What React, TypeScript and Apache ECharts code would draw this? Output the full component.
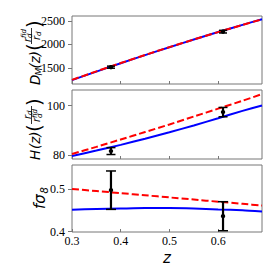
import React, { useEffect, useRef } from "react";
import * as echarts from "echarts";

// model curves
const zGrid = [0.3, 0.35, 0.4, 0.45, 0.5, 0.55, 0.6, 0.65, 0.69];
const dmLCDM = [1243, 1424, 1602, 1775, 1943, 2106, 2265, 2418, 2538];
const dmMod = [1248, 1428, 1605, 1777, 1944, 2106, 2264, 2417, 2536];
const hLCDM = [79.6, 81.8, 84.1, 86.6, 89.2, 92.0, 94.9, 97.9, 100.1];
const hMod = [80.4, 83.3, 86.3, 89.3, 92.4, 95.6, 98.8, 102.0, 104.7];
const fLCDM = [0.451, 0.453, 0.454, 0.455, 0.455, 0.454, 0.452, 0.45, 0.447];
const fMod = [0.5, 0.495, 0.49, 0.485, 0.48, 0.475, 0.47, 0.465, 0.461];

// observations
const obsZ = [0.38, 0.61];
const dmObs = [1518, 2273];
const dmErr = [22, 28];
const hObs = [81.6, 97.4];
const hErr = [1.4, 1.9];
const fObs = [0.497, 0.436];
const fErr = [0.045, 0.034];

// ticks
const zTicks = [0.3, 0.4, 0.5, 0.6];
const dmTicks = [1500, 2000, 2500];
const hTicks = [80, 100];
const fTicks = [0.4, 0.5];

const FRAME = "#777";
const SERIF = "Liberation Serif, serif";
const SANS = "DejaVu Sans, sans-serif";

function zip(xs: number[], ys: number[]) {
  return xs.map((x, i) => [x, ys[i]]);
}
function zip3(xs: number[], ys: number[], es: number[]) {
  return xs.map((x, i) => [x, ys[i], es[i]]);
}

function t(text: string, x: number, y: number, size: number, italic = true, extra: any = {}) {
  return {
    type: "text",
    x,
    y,
    style: {
      text,
      fontSize: size,
      fontFamily: SANS,
      fontStyle: italic ? "italic" : "normal",
      fill: "#000",
      align: "left",
      verticalAlign: "middle",
      ...extra,
    },
  };
}

export default function App() {
  const ref = useRef<HTMLDivElement>(null);
  useEffect(() => {
    if (!ref.current) return;
    const chart = echarts.init(ref.current, null, { renderer: "svg" });

    const grids = [
      { left: 72, top: 16, width: 190, height: 68 },
      { left: 72, top: 90, width: 190, height: 69 },
      { left: 72, top: 165, width: 190, height: 67 },
    ].map((g) => ({ ...g, show: true, borderColor: FRAME, borderWidth: 1, backgroundColor: "transparent" }));

    const xAxes = [0, 1, 2].map((i) => ({
      type: "value",
      gridIndex: i,
      min: 0.3,
      max: 0.69,
      axisLine: { show: false },
      splitLine: { show: false },
      axisTick: { show: true, inside: true, length: 3, customValues: zTicks, lineStyle: { color: FRAME } },
      axisLabel: {
        show: i === 2,
        customValues: zTicks,
        margin: 3,
        color: "#000",
        fontSize: 12,
        fontFamily: SERIF,
        formatter: (v: number) => v.toFixed(1),
      },
    }));

    const yDefs = [
      { min: 1160, max: 2606, ticks: dmTicks, fmt: (v: number) => String(Math.round(v)) },
      { min: 78.38, max: 106.37, ticks: hTicks, fmt: (v: number) => String(Math.round(v)) },
      { min: 0.399, max: 0.556, ticks: fTicks, fmt: (v: number) => v.toFixed(1) },
    ];
    const yAxes = yDefs.map((d, i) => ({
      type: "value",
      gridIndex: i,
      min: d.min,
      max: d.max,
      axisLine: { show: false },
      splitLine: { show: false },
      axisTick: { show: true, inside: false, length: 4, customValues: d.ticks, lineStyle: { color: FRAME } },
      axisLabel: {
        customValues: d.ticks,
        margin: 7,
        color: "#000",
        fontSize: 12,
        fontFamily: SERIF,
        formatter: d.fmt,
      },
    }));

    const lineSeries = (i: number, ys: number[], color: string, dashed: boolean) => ({
      type: "line",
      xAxisIndex: i,
      yAxisIndex: i,
      data: zip(zGrid, ys),
      showSymbol: false,
      symbol: "none",
      smooth: 0.2,
      lineStyle: { color, width: 2, type: dashed ? [7, 3] : "solid" },
      z: dashed ? 3 : 2,
    });

    const errSeries = (i: number, ys: number[], es: number[], capHalf: number) => ({
      type: "custom",
      xAxisIndex: i,
      yAxisIndex: i,
      data: zip3(obsZ, ys, es),
      encode: { x: 0, y: 1 },
      z: 5,
      renderItem: (params: any, api: any) => {
        const x = api.value(0);
        const y = api.value(1);
        const e = api.value(2);
        const p = api.coord([x, y]);
        const hi = api.coord([x, y + e]);
        const lo = api.coord([x, y - e]);
        const stroke = { stroke: "#000", lineWidth: 2.2 };
        const cap = { stroke: "#000", lineWidth: 1.5 };
        return {
          type: "group",
          children: [
            { type: "line", shape: { x1: p[0], y1: hi[1], x2: p[0], y2: lo[1] }, style: stroke },
            { type: "line", shape: { x1: p[0] - capHalf, y1: hi[1], x2: p[0] + capHalf, y2: hi[1] }, style: cap },
            { type: "line", shape: { x1: p[0] - capHalf, y1: lo[1], x2: p[0] + capHalf, y2: lo[1] }, style: cap },
            { type: "circle", shape: { cx: p[0], cy: p[1], r: 2.2 }, style: { fill: "#000" } },
          ],
        };
      },
    });

    const label1 = {
      type: "group",
      x: 35,
      y: 53,
      rotation: Math.PI / 2,
      children: [
        t("D", -32, 0, 13.5),
        t("M", -22.5, 3.5, 9),
        t("(z)", -15.5, 0, 13.5),
        t("(", 2, -1, 20, false),
        t("r", 11, -8, 10),
        t("fid", 15, -11, 7),
        t("d", 15, -5.5, 7),
        { type: "line", shape: { x1: 9, y1: -3.5, x2: 25, y2: -3.5 }, style: { stroke: "#000", lineWidth: 0.8 } },
        t("r", 13, 1.5, 10),
        t("d", 17, 4, 7),
        t(")", 25, -1, 20, false),
      ],
    };
    const label2 = {
      type: "group",
      x: 35,
      y: 129,
      rotation: Math.PI / 2,
      children: [
        t("H", -31, 0, 13.5),
        t("(z)", -20, 0, 13.5),
        t("(", -3, -1, 20, false),
        t("r", 10, -8, 10),
        t("d", 14, -5.5, 7),
        { type: "line", shape: { x1: 5, y1: -3.5, x2: 23, y2: -3.5 }, style: { stroke: "#000", lineWidth: 0.8 } },
        t("r", 7, 1.5, 10),
        t("fid", 11, -0.5, 7),
        t("d", 11, 5, 7),
        t(")", 23, -1, 20, false),
      ],
    };
    const label3 = {
      type: "group",
      x: 40,
      y: 197,
      rotation: Math.PI / 2,
      children: [t("fσ", -12, 0, 15), t("8", 3.5, 4, 10)],
    };
    const zLabel = {
      type: "text",
      x: 167,
      y: 258,
      style: {
        text: "z",
        fontSize: 15,
        fontFamily: SANS,
        fontStyle: "italic",
        fill: "#000",
        align: "center",
        verticalAlign: "middle",
      },
    };

    chart.setOption({
      animation: false,
      backgroundColor: "#fff",
      grid: grids,
      xAxis: xAxes,
      yAxis: yAxes,
      series: [
        lineSeries(0, dmLCDM, "#0000ff", false),
        lineSeries(0, dmMod, "#ff0000", true),
        errSeries(0, dmObs, dmErr, 4),
        lineSeries(1, hLCDM, "#0000ff", false),
        lineSeries(1, hMod, "#ff0000", true),
        errSeries(1, hObs, hErr, 4.5),
        lineSeries(2, fLCDM, "#0000ff", false),
        lineSeries(2, fMod, "#ff0000", true),
        errSeries(2, fObs, fErr, 5),
      ],
      graphic: [label1, label2, label3, zLabel],
    });

    return () => chart.dispose();
  }, []);

  return (
    <div
      ref={ref}
      style={{ position: "absolute", left: 0, top: 0, width: 278, height: 278, background: "#fff" }}
    />
  );
}
